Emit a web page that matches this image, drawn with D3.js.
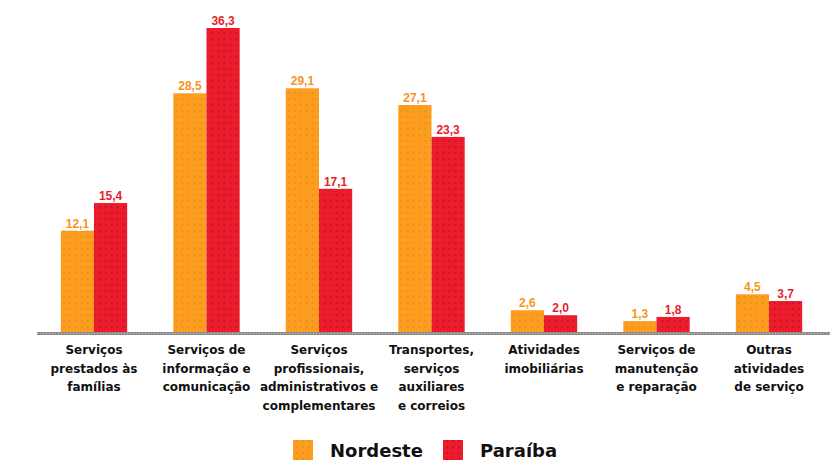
<!DOCTYPE html>
<html><head><meta charset="utf-8">
<script src="https://cdn.jsdelivr.net/npm/d3@7"></script>
<style>body{margin:0;background:#fff}svg{display:block}</style>
</head><body>
<svg id="c" width="840" height="461"></svg>
<script>
const categories = [
  ["Serviços","prestados às","famílias"],
  ["Serviços de","informação e","comunicação"],
  ["Serviços","profissionais,","administrativos e","complementares"],
  ["Transportes,","serviços","auxiliares","e correios"],
  ["Atividades","imobiliárias"],
  ["Serviços de","manutenção","e reparação"],
  ["Outras","atividades","de serviço"]
];
const seriesNames = ["Nordeste","Paraíba"];
const nordeste = [12.1, 28.5, 29.1, 27.1, 2.6, 1.3, 4.5];
const paraiba  = [15.4, 36.3, 17.1, 23.3, 2.0, 1.8, 3.7];
const labelsN = ["12,1","28,5","29,1","27,1","2,6","1,3","4,5"];
const labelsP = ["15,4","36,3","17,1","23,3","2,0","1,8","3,7"];

const svg = d3.select("#c");
const colors = ["#FF9B1F","#EC1C2C"];
const labelColors = ["#F7941D","#E41E2B"];

const defs = svg.append("defs");
const pat = (id, bg, dot) => {
  const p = defs.append("pattern").attr("id", id).attr("patternUnits","userSpaceOnUse")
    .attr("width",6).attr("height",6);
  p.append("rect").attr("width",6).attr("height",6).attr("fill",bg);
  p.append("circle").attr("cx",3).attr("cy",3).attr("r",0.9).attr("fill",dot);
};
pat("pN", colors[0], "#C99A22");
pat("pP", colors[1], "#B5142A");

const idx = d3.range(categories.length);
const x0 = d3.scaleBand().domain(idx).range([37.75, 825.25]).paddingInner(0.41).paddingOuter(0.205);
const x1 = d3.scaleBand().domain([0,1]).range([0, x0.bandwidth()]);
const y = d3.scaleLinear().domain([0, 36.3]).range([332, 28]);

const data = idx.map(i => [
  {s:0, v:nordeste[i], l:labelsN[i]},
  {s:1, v:paraiba[i], l:labelsP[i]}
]);

const g = svg.append("g");
const groups = g.selectAll("g.grp").data(data).join("g")
  .attr("transform", (d,i) => `translate(${x0(i)},0)`);

groups.selectAll("rect").data(d => d).join("rect")
  .attr("x", d => x1(d.s))
  .attr("width", x1.bandwidth())
  .attr("y", d => y(d.v))
  .attr("height", d => y(0) - y(d.v))
  .attr("fill", d => d.s === 0 ? "url(#pN)" : "url(#pP)");

groups.selectAll("text").data(d => d).join("text")
  .attr("x", d => x1(d.s) + x1.bandwidth()/2)
  .attr("y", d => y(d.v) - 3)
  .attr("text-anchor","middle")
  .attr("font-family","Liberation Sans, Arial, sans-serif")
  .attr("font-weight","bold")
  .attr("font-size", 12)
  .attr("fill", d => labelColors[d.s])
  .attr("stroke","#fff").attr("stroke-width",2).attr("paint-order","stroke")
  .text(d => d.l);

// baseline axis
svg.append("line").attr("x1",37).attr("x2",830).attr("y1",y(0)+1.5).attr("y2",y(0)+1.5)
  .attr("stroke","#8c8c8c").attr("stroke-width",3);
svg.append("line").attr("x1",37).attr("x2",830).attr("y1",y(0)+1.5).attr("y2",y(0)+1.5)
  .attr("stroke","#c8c8c8").attr("stroke-width",1).attr("stroke-dasharray","1,2");

// category labels
const cat = svg.append("g");
idx.forEach(i => {
  const t = cat.append("text")
    .attr("x", x0(i) + x0.bandwidth()/2)
    .attr("y", 354)
    .attr("text-anchor","middle")
    .attr("font-family","DejaVu Sans, sans-serif")
    .attr("font-weight","bold")
    .attr("font-size", 12)
    .attr("fill","#111");
  categories[i].forEach((line, k) => {
    t.append("tspan").attr("x", x0(i) + x0.bandwidth()/2).attr("dy", k === 0 ? 0 : 18.5).text(line);
  });
});

// legend
const leg = svg.append("g");
const legX = [293, 443];
seriesNames.forEach((n, i) => {
  leg.append("rect").attr("x", legX[i]).attr("y", 440).attr("width", 20).attr("height", 20)
    .attr("fill", i === 0 ? "url(#pN)" : "url(#pP)");
  leg.append("text").attr("x", legX[i] + 37).attr("y", 457)
    .attr("font-family","DejaVu Sans, sans-serif")
    .attr("font-weight","bold").attr("font-size", 18).attr("fill","#111")
    .text(n);
});
</script>
</body></html>
